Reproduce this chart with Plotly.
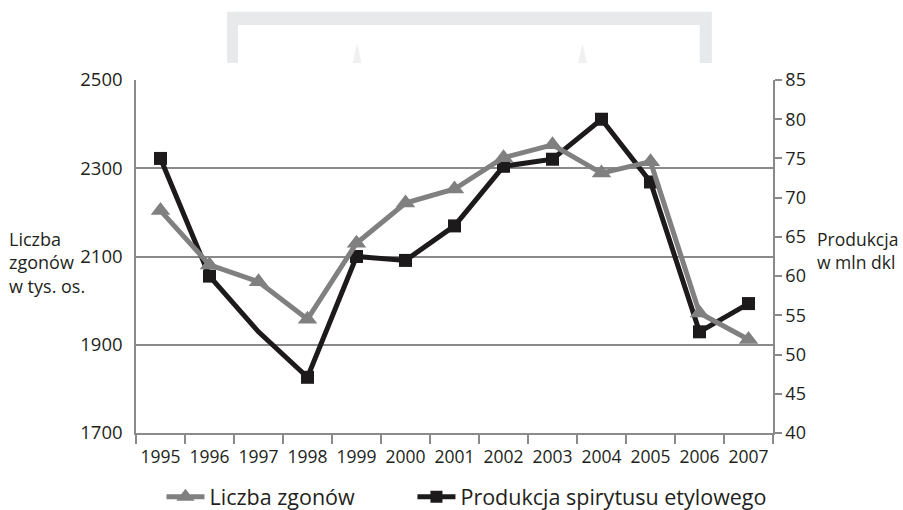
import plotly.graph_objects as go

years = ["1995", "1996", "1997", "1998", "1999", "2000", "2001",
         "2002", "2003", "2004", "2005", "2006", "2007"]
deaths = [2204, 2081, 2043, 1958, 2130, 2221, 2253, 2324, 2353, 2289, 2315, 1972, 1912]
production = [75.0, 60.0, 52.9, 47.1, 62.5, 62.0, 66.4, 74.0, 74.9, 80.0, 72.0, 52.9, 56.5]
prod_marker_size = [13, 13, 0, 13, 13, 13, 13, 13, 13, 13, 13, 13, 13]

FONT = "Open Sans"
TXT = "#231f20"
AX = "#8a8a8a"
BLK = "#1c1a1a"

fig = go.Figure()
fig.add_trace(go.Scatter(
    x=years, y=deaths, name="Liczba zgonów", yaxis="y2", legend="legend",
    mode="lines+markers",
    line=dict(color="#808080", width=5),
    marker=dict(symbol="triangle-up", size=17, color="#808080", opacity=1, line=dict(width=0)),
))
fig.add_trace(go.Scatter(
    x=years, y=production, name="Produkcja spirytusu etylowego", yaxis="y", legend="legend2",
    mode="lines+markers",
    line=dict(color=BLK, width=5),
    marker=dict(symbol="square", size=prod_marker_size, color=BLK, opacity=1,
                line=dict(width=0, color=BLK)),
))

leg_common = dict(orientation="h", y=-0.181, xanchor="left", yanchor="middle",
                  itemwidth=38,
                  font=dict(size=21.5, color=TXT, family=FONT), bgcolor="rgba(0,0,0,0)")

fig.update_layout(
    width=903, height=510,
    margin=dict(l=136, r=130, t=80, b=77, autoexpand=False),
    paper_bgcolor="white", plot_bgcolor="white",
    font=dict(family=FONT, color=TXT),
    showlegend=True,
    legend=dict(x=0.040, **leg_common),
    legend2=dict(x=0.434, **leg_common),
    xaxis=dict(type="category", tickson="boundaries", ticks="outside", ticklen=9,
               tickcolor=AX, tickwidth=1.5, showline=True, linecolor=AX, linewidth=1.5,
               showgrid=False, tickfont=dict(size=17.5, color=TXT), tickangle=0,
               ticklabelstandoff=7, range=[-0.5, 12.5], automargin=False),
    yaxis=dict(side="right", range=[40, 85], dtick=5, tick0=40, showgrid=False,
               showline=True, linecolor=AX, linewidth=1.5, ticks="outside", ticklen=7,
               tickcolor=AX, tickwidth=1.5, tickfont=dict(size=18, color=TXT),
               zeroline=False, automargin=False),
    yaxis2=dict(side="left", overlaying="y", range=[1700, 2500], dtick=200, tick0=1700,
                showgrid=True, gridcolor=AX, gridwidth=1.5, showline=True, linecolor=AX,
                linewidth=1.5, ticks="", tickfont=dict(size=18.5, color=TXT),
                ticklabelstandoff=8, zeroline=False, automargin=False),
    shapes=[
        dict(type="rect", xref="paper", yref="paper", x0=0.143, x1=0.904, y0=1.048, y1=1.193,
             fillcolor="#e8e9ea", line=dict(width=0), layer="below"),
        dict(type="rect", xref="paper", yref="paper", x0=0.160, x1=0.885, y0=1.040, y1=1.156,
             fillcolor="white", line=dict(width=0), layer="below"),
        dict(type="path", xref="paper", yref="paper",
             path="M 0.340 1.048 L 0.347 1.105 L 0.354 1.048 Z",
             fillcolor="#f0f0f1", line=dict(width=0), layer="below"),
        dict(type="path", xref="paper", yref="paper",
             path="M 0.694 1.048 L 0.701 1.105 L 0.708 1.048 Z",
             fillcolor="#f0f0f1", line=dict(width=0), layer="below"),
    ],
    annotations=[
        dict(text="Liczba<br>zgonów<br>w tys. os.", xref="paper", yref="paper",
             x=-0.203, y=0.484, xanchor="left", yanchor="middle", align="left",
             showarrow=False, font=dict(size=18, color=TXT, family=FONT)),
        dict(text="Produkcja<br>w mln dkl", xref="paper", yref="paper",
             x=1.066, y=0.516, xanchor="left", yanchor="middle", align="left",
             showarrow=False, font=dict(size=17.5, color=TXT, family=FONT)),
    ],
)

fig.write_html("out.html", config={"displayModeBar": False},
               post_script="document.body.style.margin='0';")
